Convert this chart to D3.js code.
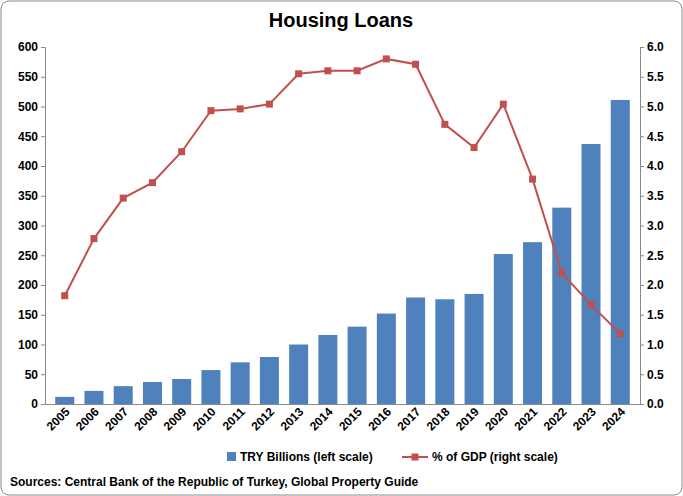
<!DOCTYPE html>
<html><head><meta charset="utf-8">
<script src="https://cdn.jsdelivr.net/npm/d3@7/dist/d3.min.js"></script>
<style>body{margin:0;background:#fff}svg{font-family:"Liberation Sans",Arial,sans-serif;font-weight:bold}</style>
</head><body><svg id="c" width="683" height="496"></svg>
<script>
const years=["2005","2006","2007","2008","2009","2010","2011","2012","2013","2014","2015","2016","2017","2018","2019","2020","2021","2022","2023","2024"];
const loans=[12,22,30,37,42,57,70,79,100,116,130,152,179,176,185,252,272,330,437,511];
const gdpPct=[1.82,2.78,3.46,3.72,4.24,4.93,4.96,5.04,5.55,5.6,5.6,5.8,5.71,4.7,4.31,5.04,3.78,2.2,1.67,1.18];
const leftTicks=[0,50,100,150,200,250,300,350,400,450,500,550,600];
const rightTicks=[0,0.5,1,1.5,2,2.5,3,3.5,4,4.5,5,5.5,6];

const svg=d3.select("#c");
svg.append("rect").attr("x",1).attr("y",1).attr("width",681).attr("height",494).attr("rx",8).attr("fill","#fff").attr("stroke","#888");
const L=45,R=640,T=47,B=404;
const x=d3.scaleBand().domain(years).range([L,R]).padding(0.35);
const yL=d3.scaleLinear().domain([0,600]).range([B,T]);
const yR=d3.scaleLinear().domain([0,6]).range([B,T]);

svg.append("text").attr("x",341).attr("y",27).attr("text-anchor","middle").attr("font-size",20).text("Housing Loans");

svg.selectAll(".bar").data(loans).join("rect").attr("x",(d,i)=>x(years[i])).attr("y",d=>yL(d))
 .attr("width",x.bandwidth()).attr("height",d=>B-yL(d)).attr("fill","#4f81bd");

const ax=svg.append("g").attr("transform",`translate(0,${B})`).call(d3.axisBottom(x).tickSize(0).tickPadding(6));
ax.selectAll("text").attr("font-size",12).attr("text-anchor","end").attr("transform","rotate(-45)").attr("dx","-2").attr("dy","4");
const al=svg.append("g").attr("transform",`translate(${L},0)`).call(d3.axisLeft(yL).tickValues(leftTicks).tickSize(4));
al.selectAll("text").attr("font-size",12);
const ar=svg.append("g").attr("transform",`translate(${R},0)`).call(d3.axisRight(yR).tickValues(rightTicks).tickFormat(d3.format(".1f")).tickSize(4));
ar.selectAll("text").attr("font-size",12);
svg.selectAll(".domain,.tick line").attr("stroke","#888");

const line=d3.line().x((d,i)=>x(years[i])+x.bandwidth()/2).y(d=>yR(d));
svg.append("path").datum(gdpPct).attr("d",line).attr("fill","none").attr("stroke","#c0504d").attr("stroke-width",2);
svg.selectAll(".pt").data(gdpPct).join("rect").attr("x",(d,i)=>x(years[i])+x.bandwidth()/2-3.5).attr("y",d=>yR(d)-3.5)
 .attr("width",7).attr("height",7).attr("fill","#c0504d");

const lg=svg.append("g").attr("font-size",12);
lg.append("rect").attr("x",227).attr("y",452).attr("width",9).attr("height",9).attr("fill","#4f81bd");
lg.append("text").attr("x",240).attr("y",461).text("TRY Billions (left scale)");
lg.append("line").attr("x1",402).attr("x2",428).attr("y1",457).attr("y2",457).attr("stroke","#c0504d").attr("stroke-width",2);
lg.append("rect").attr("x",411.5).attr("y",453.5).attr("width",7).attr("height",7).attr("fill","#c0504d");
lg.append("text").attr("x",432).attr("y",461).text("% of GDP (right scale)");
svg.append("text").attr("x",10).attr("y",486).attr("font-size",12).text("Sources: Central Bank of the Republic of Turkey, Global Property Guide");
</script></body></html>
